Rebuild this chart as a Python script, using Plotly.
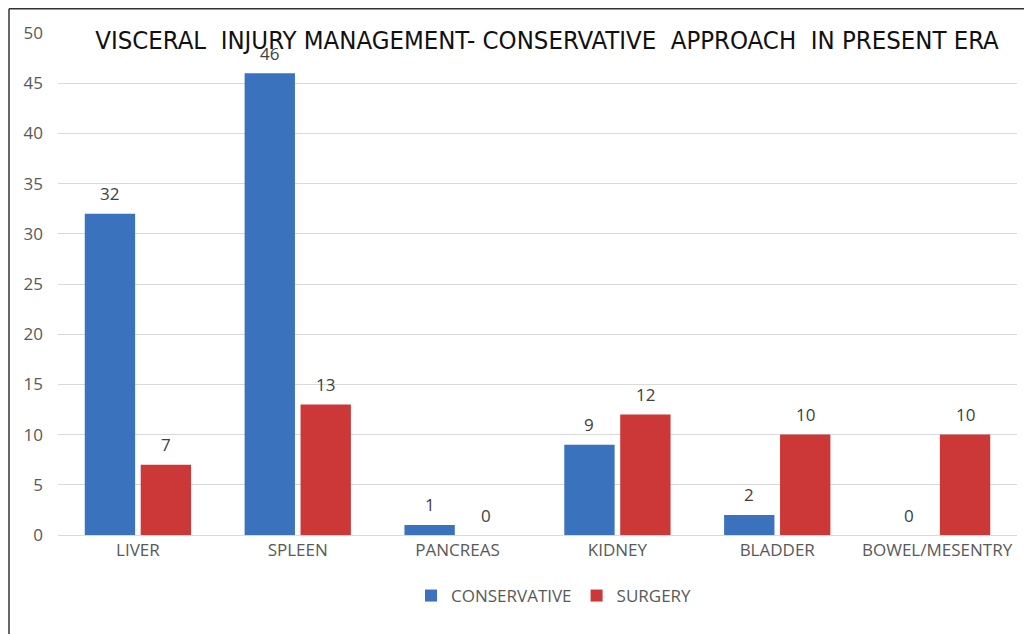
import plotly.graph_objects as go

categories = ["LIVER", "SPLEEN", "PANCREAS", "KIDNEY", "BLADDER", "BOWEL/MESENTRY"]
conservative = [32, 46, 1, 9, 2, 0]
surgery = [7, 13, 0, 12, 10, 10]
y_ticks = [0, 5, 10, 15, 20, 25, 30, 35, 40, 45, 50]

# page has an 8px body margin; figure is placed at (8, 8) on screen
O = 8
W, H = 1024, 626
# screen-pixel plot area: x 58..1017, y 33..535
L, R, T, B = 58 - O, (1032 - 1017), 33 - O, (634 - 535)
pw, ph = W - L - R, H - T - B

def px(x):  # screen x -> paper
    return (x - O - L) / pw

def py(y):  # screen y -> paper
    return 1 - (y - O - T) / ph

BARGAP = 0.3
cat_px = pw / len(categories)
bar_offset = cat_px * (1 - BARGAP) / 4

fig = go.Figure()
fig.add_trace(go.Bar(
    x=categories, y=conservative, name="CONSERVATIVE",
    marker=dict(color="#3A72BE", line=dict(color="#2A5590", width=0)),
))
fig.add_trace(go.Bar(
    x=categories, y=surgery, name="SURGERY",
    marker=dict(color="#CC3838", line=dict(color="#8E2222", width=0)),
))

# value labels above bars
for series, shift in ((conservative, -bar_offset), (surgery, bar_offset)):
    for c, v in zip(categories, series):
        fig.add_annotation(x=c, y=v, xref="x", yref="y", text=str(v),
                           showarrow=False, xshift=shift, yshift=20, yanchor="middle",
                           font=dict(color="#404040", size=17, family="Open Sans"))

fig.update_layout(
    width=W, height=H,
    margin=dict(l=L, r=R, t=T, b=B),
    paper_bgcolor="white", plot_bgcolor="white",
    barmode="group", bargap=BARGAP, bargroupgap=0.1,
    font=dict(family="Open Sans", color="#595959", size=17),
    title=dict(
        text="VISCERAL  INJURY MANAGEMENT- CONSERVATIVE  APPROACH  IN PRESENT ERA",
        xref="container", x=(547 - O) / W, xanchor="center",
        yref="container", y=1 - (40 - O) / H, yanchor="middle",
        font=dict(family="DejaVu Sans Condensed, DejaVu Sans", size=25.5, color="#111111"),
    ),
    xaxis=dict(showgrid=False, showline=True, linecolor="#D9D9D9", linewidth=1,
               ticks="", tickfont=dict(size=17, color="#595959")),
    yaxis=dict(range=[0, 50], tickvals=y_ticks, showgrid=True, gridcolor="#D9D9D9",
               zeroline=False, showline=False, ticks="", ticklabelstandoff=14,
               tickfont=dict(size=17, color="#595959")),
    legend=dict(orientation="h", x=px(554), xanchor="center", y=py(596), yanchor="middle",
                font=dict(size=17, color="#595959"), itemwidth=30),
    showlegend=True,
)

# outer frame (left and top edges only visible)
fig.add_shape(type="line", xref="paper", yref="paper",
              x0=px(9), x1=px(9), y0=py(8.8), y1=py(H + O + 5),
              line=dict(color="#333333", width=1.5))
fig.add_shape(type="line", xref="paper", yref="paper",
              x0=px(9), x1=px(W + O + 5), y0=py(8.8), y1=py(8.8),
              line=dict(color="#333333", width=1.5))

fig.write_html("out.html")
